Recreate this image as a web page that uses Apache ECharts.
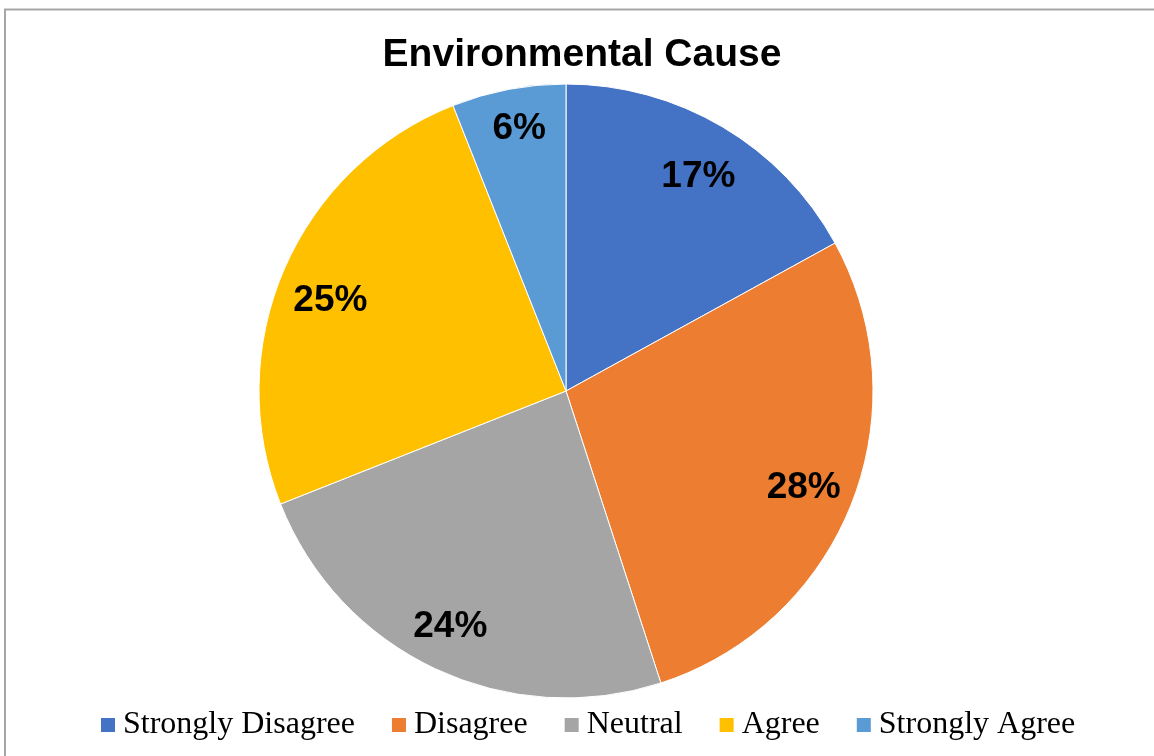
<!DOCTYPE html>
<html>
<head>
<meta charset="utf-8">
<title>Environmental Cause</title>
<script src="https://cdn.jsdelivr.net/npm/echarts@6/dist/echarts.min.js"></script>
<style>
  html, body { margin: 0; padding: 0; background: #ffffff; }
  #chart { width: 1154px; height: 756px; }
</style>
</head>
<body>
<div id="chart"></div>
<script>
// Survey responses: share of answers per category (percent)
const categories = ['Strongly Disagree', 'Disagree', 'Neutral', 'Agree', 'Strongly Agree'];
const shares = [17, 28, 24, 25, 6];
const colors = ['#4472C4', '#ED7D31', '#A5A5A5', '#FFC000', '#5B9BD5'];
// small per-slice nudges for the percentage labels (px)
const labelNudge = [[0, 10], [-4, 1], [-5, 1], [3, 13], [2, -7]];

const pieData = categories.map((name, i) => ({
  name: name,
  value: shares[i],
  itemStyle: { color: colors[i] }
}));

const center = [566, 391];
const outerR = 307;

const chart = echarts.init(document.getElementById('chart'), null, { renderer: 'canvas' });
chart.setOption({
  animation: false,
  backgroundColor: '#ffffff',
  title: {
    text: 'Environmental Cause',
    left: 577,
    top: 31,
    textAlign: 'center',
    textStyle: {
      fontFamily: '"Liberation Sans", Arial, sans-serif',
      fontWeight: 'bold',
      fontSize: 39,
      color: '#000000'
    }
  },
  legend: {
    data: categories,
    top: 704,
    left: 94,
    itemWidth: 16,
    itemHeight: 16,
    itemGap: 35,
    icon: 'rect',
    textStyle: {
      fontFamily: '"Liberation Serif", "Times New Roman", serif',
      fontSize: 32,
      color: '#000000',
      padding: [0, 0, 0, 2]
    }
  },
  graphic: [{
    type: 'rect',
    silent: true,
    shape: { x: 5, y: 9.5, width: 1200, height: 800 },
    style: { fill: 'none', stroke: '#a6a6a6', lineWidth: 2 }
  }],
  series: [
    {
      name: 'Environmental Cause',
      type: 'pie',
      center: center,
      radius: [0, outerR],
      startAngle: 90,
      clockwise: true,
      data: pieData,
      itemStyle: { borderColor: '#ffffff', borderWidth: 1 },
      label: { show: false },
      labelLine: { show: false },
      emphasis: { disabled: true }
    },
    {
      // transparent ring that carries the percentage labels near the rim
      name: 'labels',
      type: 'pie',
      center: center,
      radius: [207, outerR],
      startAngle: 90,
      clockwise: true,
      silent: true,
      legendHoverLink: false,
      data: categories.map((name, i) => ({
        name: name + ' ',
        value: shares[i],
        itemStyle: { color: 'rgba(0,0,0,0)' },
        label: { offset: labelNudge[i] }
      })),
      label: {
        show: true,
        position: 'inside',
        formatter: p => p.value + '%',
        fontFamily: '"Liberation Sans", Arial, sans-serif',
        fontWeight: 'bold',
        fontSize: 37,
        color: '#000000'
      },
      labelLine: { show: false },
      emphasis: { disabled: true }
    }
  ]
});
</script>
</body>
</html>
